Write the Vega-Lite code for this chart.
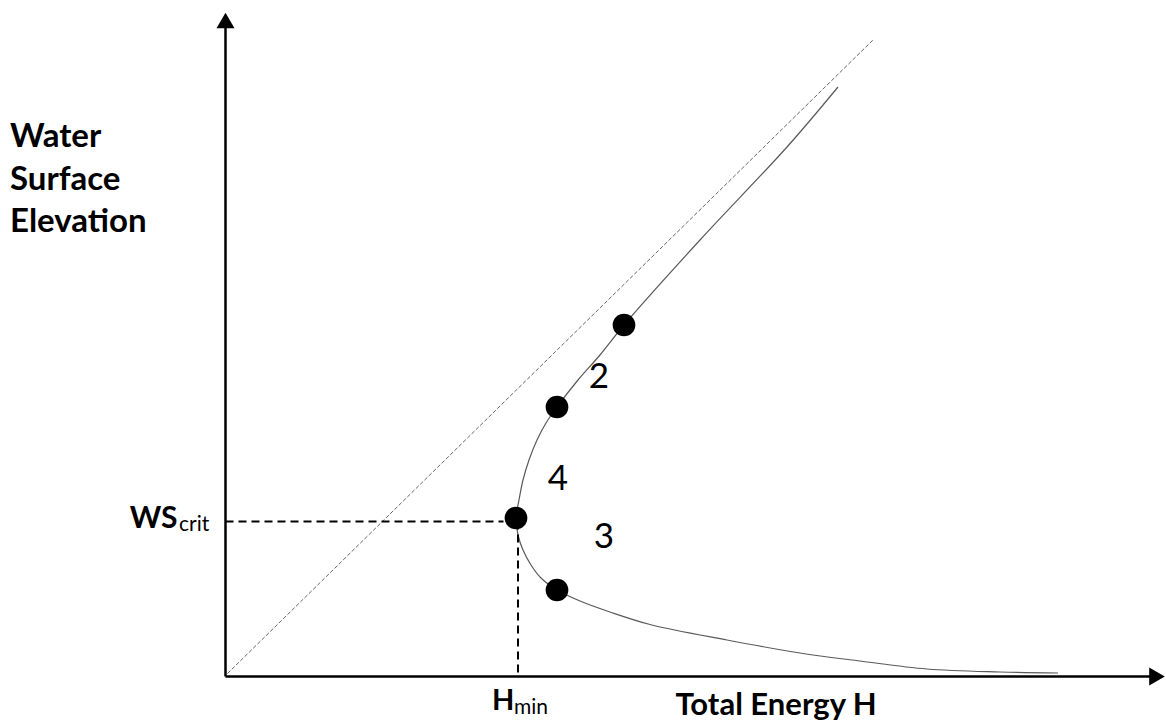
{
  "$schema": "https://vega.github.io/schema/vega-lite/v6.json",
  "width": 1166,
  "height": 722,
  "autosize": {"type": "none"},
  "padding": 0,
  "config": {"view": {"stroke": null}, "font": "Lato"},
  "datasets": {
    "axes": [
      {"x": 0, "y": 0, "x2": 0, "y2": 6.5},
      {"x": 0, "y": 0, "x2": 9.25, "y2": 0}
    ],
    "arrows": [
      {"x": 0, "y": 6.56, "shape": "triangle-up"},
      {"x": 9.315, "y": 0, "shape": "triangle-right"}
    ],
    "diagonal": [
      {"x": 0.02, "y": 0.03, "x2": 6.475, "y2": 6.365}
    ],
    "guides": [
      {"x": 0, "y": 1.55, "x2": 2.78, "y2": 1.55},
      {"x": 2.925, "y": 1.55, "x2": 2.925, "y2": 0}
    ],
    "curve": [
      {"i": 1, "H": 6.125, "WS": 5.895},
      {"i": 2, "H": 5.615, "WS": 5.295},
      {"i": 3, "H": 4.745, "WS": 4.365},
      {"i": 4, "H": 3.985, "WS": 3.515},
      {"i": 5, "H": 3.745, "WS": 3.215},
      {"i": 6, "H": 3.525, "WS": 2.965},
      {"i": 7, "H": 3.315, "WS": 2.695},
      {"i": 8, "H": 3.205, "WS": 2.535},
      {"i": 9, "H": 3.115, "WS": 2.365},
      {"i": 10, "H": 3.035, "WS": 2.165},
      {"i": 11, "H": 2.975, "WS": 1.965},
      {"i": 12, "H": 2.935, "WS": 1.765},
      {"i": 13, "H": 2.905, "WS": 1.585},
      {"i": 14, "H": 2.925, "WS": 1.415},
      {"i": 15, "H": 2.975, "WS": 1.265},
      {"i": 16, "H": 3.055, "WS": 1.115},
      {"i": 17, "H": 3.155, "WS": 0.985},
      {"i": 18, "H": 3.315, "WS": 0.865},
      {"i": 19, "H": 3.545, "WS": 0.755},
      {"i": 20, "H": 3.845, "WS": 0.645},
      {"i": 21, "H": 4.245, "WS": 0.52},
      {"i": 22, "H": 5.015, "WS": 0.365},
      {"i": 23, "H": 5.745, "WS": 0.235},
      {"i": 24, "H": 6.345, "WS": 0.155},
      {"i": 25, "H": 7.015, "WS": 0.075},
      {"i": 26, "H": 7.745, "WS": 0.045},
      {"i": 27, "H": 8.325, "WS": 0.035}
    ],
    "dots": [
      {"H": 3.985, "WS": 3.515},
      {"H": 3.315, "WS": 2.695},
      {"H": 2.905, "WS": 1.585},
      {"H": 3.315, "WS": 0.865}
    ],
    "ylabel": [
      {"x": -2.155, "y": 5.295, "t": "Water"},
      {"x": -2.155, "y": 4.87, "t": "Surface"},
      {"x": -2.155, "y": 4.445, "t": "Elevation"}
    ],
    "boldMid": [
      {"x": 4.5, "y": -0.385, "t": "Total Energy H"}
    ],
    "boldH": [
      {"x": 2.665, "y": -0.335, "t": "H"}
    ],
    "boldRight": [
      {"x": -0.48, "y": 1.49, "t": "WS"}
    ],
    "subs": [
      {"x": -0.465, "y": 1.455, "t": "crit"},
      {"x": 2.885, "y": -0.375, "t": "min"}
    ],
    "regions": [
      {"x": 3.735, "y": 2.885, "t": "2"},
      {"x": 3.325, "y": 1.865, "t": "4"},
      {"x": 3.785, "y": 1.285, "t": "3"}
    ]
  },
  "layer": [
    {
      "data": {"name": "diagonal"},
      "mark": {"type": "rule", "color": "#666666", "strokeWidth": 1, "strokeDash": [4, 2]},
      "encoding": {
        "x": {"field": "x", "type": "quantitative", "scale": {"domain": [-2.255, 9.405], "nice": false, "zero": false}, "axis": null},
        "y": {"field": "y", "type": "quantitative", "scale": {"domain": [-0.455, 6.765], "nice": false, "zero": false}, "axis": null},
        "x2": {"field": "x2"},
        "y2": {"field": "y2"}
      }
    },
    {
      "data": {"name": "curve"},
      "mark": {"type": "line", "color": "#5a5a5a", "strokeWidth": 1.2, "interpolate": "catmull-rom"},
      "encoding": {
        "x": {"field": "H", "type": "quantitative", "scale": {"domain": [-2.255, 9.405], "nice": false, "zero": false}, "axis": null},
        "y": {"field": "WS", "type": "quantitative", "scale": {"domain": [-0.455, 6.765], "nice": false, "zero": false}, "axis": null},
        "order": {"field": "i", "type": "quantitative"}
      }
    },
    {
      "data": {"name": "guides"},
      "mark": {"type": "rule", "color": "#000000", "strokeWidth": 2, "strokeDash": [8, 5]},
      "encoding": {
        "x": {"field": "x", "type": "quantitative", "scale": {"domain": [-2.255, 9.405], "nice": false, "zero": false}, "axis": null},
        "y": {"field": "y", "type": "quantitative", "scale": {"domain": [-0.455, 6.765], "nice": false, "zero": false}, "axis": null},
        "x2": {"field": "x2"},
        "y2": {"field": "y2"}
      }
    },
    {
      "data": {"name": "axes"},
      "mark": {"type": "rule", "color": "#000000", "strokeWidth": 2.5},
      "encoding": {
        "x": {"field": "x", "type": "quantitative", "scale": {"domain": [-2.255, 9.405], "nice": false, "zero": false}, "axis": null},
        "y": {"field": "y", "type": "quantitative", "scale": {"domain": [-0.455, 6.765], "nice": false, "zero": false}, "axis": null},
        "x2": {"field": "x2"},
        "y2": {"field": "y2"}
      }
    },
    {
      "data": {"name": "arrows"},
      "mark": {"type": "point", "filled": true, "color": "#000000", "opacity": 1, "size": 324},
      "encoding": {
        "x": {"field": "x", "type": "quantitative", "scale": {"domain": [-2.255, 9.405], "nice": false, "zero": false}, "axis": null},
        "y": {"field": "y", "type": "quantitative", "scale": {"domain": [-0.455, 6.765], "nice": false, "zero": false}, "axis": null},
        "shape": {"field": "shape", "type": "nominal", "scale": null, "legend": null}
      }
    },
    {
      "data": {"name": "dots"},
      "mark": {"type": "circle", "color": "#000000", "opacity": 1, "size": 515},
      "encoding": {
        "x": {"field": "H", "type": "quantitative", "scale": {"domain": [-2.255, 9.405], "nice": false, "zero": false}, "axis": null},
        "y": {"field": "WS", "type": "quantitative", "scale": {"domain": [-0.455, 6.765], "nice": false, "zero": false}, "axis": null}
      }
    },
    {
      "data": {"name": "ylabel"},
      "mark": {"type": "text", "font": "Lato", "fontWeight": "bold", "fontSize": 33, "align": "left", "baseline": "alphabetic", "color": "#000000"},
      "encoding": {
        "x": {"field": "x", "type": "quantitative", "scale": {"domain": [-2.255, 9.405], "nice": false, "zero": false}, "axis": null},
        "y": {"field": "y", "type": "quantitative", "scale": {"domain": [-0.455, 6.765], "nice": false, "zero": false}, "axis": null},
        "text": {"field": "t"}
      }
    },
    {
      "data": {"name": "boldMid"},
      "mark": {"type": "text", "font": "Lato", "fontWeight": "bold", "fontSize": 31, "align": "left", "baseline": "alphabetic", "color": "#000000"},
      "encoding": {
        "x": {"field": "x", "type": "quantitative", "scale": {"domain": [-2.255, 9.405], "nice": false, "zero": false}, "axis": null},
        "y": {"field": "y", "type": "quantitative", "scale": {"domain": [-0.455, 6.765], "nice": false, "zero": false}, "axis": null},
        "text": {"field": "t"}
      }
    },
    {
      "data": {"name": "boldH"},
      "mark": {"type": "text", "font": "Lato", "fontWeight": "bold", "fontSize": 29, "align": "left", "baseline": "alphabetic", "color": "#000000"},
      "encoding": {
        "x": {"field": "x", "type": "quantitative", "scale": {"domain": [-2.255, 9.405], "nice": false, "zero": false}, "axis": null},
        "y": {"field": "y", "type": "quantitative", "scale": {"domain": [-0.455, 6.765], "nice": false, "zero": false}, "axis": null},
        "text": {"field": "t"}
      }
    },
    {
      "data": {"name": "boldRight"},
      "mark": {"type": "text", "font": "Lato", "fontWeight": "bold", "fontSize": 30, "align": "right", "baseline": "alphabetic", "color": "#000000"},
      "encoding": {
        "x": {"field": "x", "type": "quantitative", "scale": {"domain": [-2.255, 9.405], "nice": false, "zero": false}, "axis": null},
        "y": {"field": "y", "type": "quantitative", "scale": {"domain": [-0.455, 6.765], "nice": false, "zero": false}, "axis": null},
        "text": {"field": "t"}
      }
    },
    {
      "data": {"name": "subs"},
      "mark": {"type": "text", "font": "Lato", "fontSize": 21, "align": "left", "baseline": "alphabetic", "color": "#000000"},
      "encoding": {
        "x": {"field": "x", "type": "quantitative", "scale": {"domain": [-2.255, 9.405], "nice": false, "zero": false}, "axis": null},
        "y": {"field": "y", "type": "quantitative", "scale": {"domain": [-0.455, 6.765], "nice": false, "zero": false}, "axis": null},
        "text": {"field": "t"}
      }
    },
    {
      "data": {"name": "regions"},
      "mark": {"type": "text", "font": "Lato", "fontSize": 35, "align": "center", "baseline": "alphabetic", "color": "#000000"},
      "encoding": {
        "x": {"field": "x", "type": "quantitative", "scale": {"domain": [-2.255, 9.405], "nice": false, "zero": false}, "axis": null},
        "y": {"field": "y", "type": "quantitative", "scale": {"domain": [-0.455, 6.765], "nice": false, "zero": false}, "axis": null},
        "text": {"field": "t"}
      }
    }
  ]
}
